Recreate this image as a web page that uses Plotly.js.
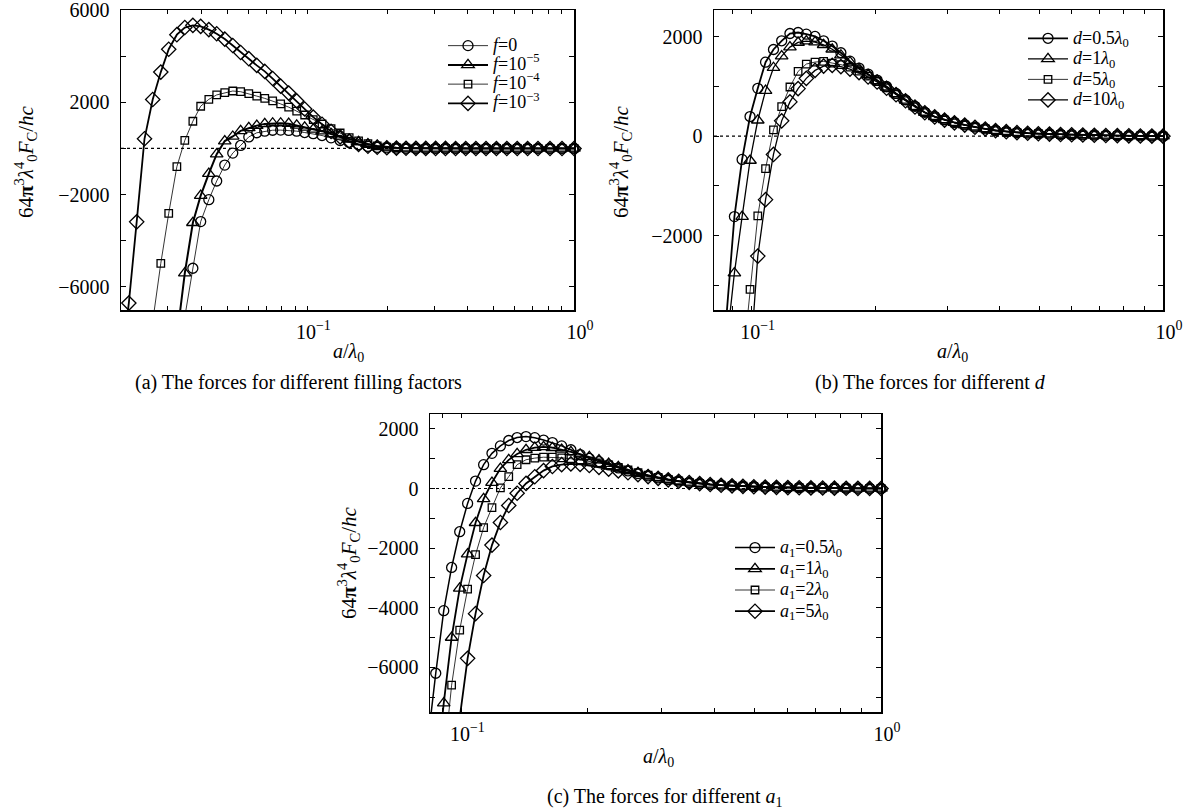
<!DOCTYPE html>
<html>
<head>
<meta charset="utf-8">
<script src="https://cdn.plot.ly/plotly-3.0.1.min.js"></script>
<style>html,body{margin:0;padding:0;background:#fff;}#chart{width:1190px;height:812px;}</style>
</head>
<body>
<div id="chart"></div>
<script>
// ---------- Panel (a): different filling factors ----------
const xA = [0.02, 0.0214, 0.0229, 0.0245, 0.0263, 0.0282, 0.0302, 0.0324, 0.0347, 0.0372, 0.0398, 0.0427, 0.0457, 0.049, 0.0525, 0.0562, 0.0603, 0.0646, 0.0692, 0.0741, 0.0794, 0.0851, 0.0912, 0.0977, 0.1052, 0.1135, 0.1227, 0.1327, 0.1435, 0.1556, 0.1687, 0.1828, 0.1986, 0.2158, 0.2344, 0.2553, 0.278, 0.3027, 0.3296, 0.3597, 0.3926, 0.4285, 0.4677, 0.5117, 0.5598, 0.6124, 0.6699, 0.7328, 0.8128, 0.9016, 1.0];
const fZero = [null, null, null, null, null, null, null, null, -7300, -5190, -3170, -2220, -1410, -720, -200, 130, 500, 680, 750, 790, 795, 780, 750, 690, 640, 560, 460, 345, 260, 160, 90, 45, 25, 12, 6, 3, 2, 1, 1, 0, 0, 0, 0, 0, 0, 0, 0, 0, 0, 0, 0];
const fE5 = [null, null, null, null, null, null, null, -8200, -5400, -3220, -2040, -1090, -245, 320, 520, 760, 890, 990, 1065, 1094, 1094, 1075, 1000, 915, 830, 750, 630, 520, 390, 290, 185, 110, 58, 30, 15, 8, 4, 2, 1, 1, 0, 0, 0, 0, 0, 0, 0, 0, 0, 0, 0];
const fE4 = [null, null, null, null, -7500, -4980, -2810, -790, 350, 1180, 1830, 2130, 2320, 2420, 2490, 2460, 2380, 2270, 2170, 2060, 1930, 1790, 1620, 1450, 1250, 1060, 860, 670, 470, 330, 210, 110, 58, 30, 15, 8, 4, 2, 1, 1, 0, 0, 0, 0, 0, 0, 0, 0, 0, 0, 0];
const fE3 = [-9500, -6700, -3180, 420, 2120, 3310, 4300, 4930, 5240, 5335, 5290, 5150, 4970, 4740, 4460, 4160, 3890, 3600, 3340, 3030, 2700, 2400, 2060, 1710, 1360, 1050, 740, 500, 320, 180, 95, 55, 30, 15, 8, 4, 2, 1, 1, 0, 0, 0, 0, 0, 0, 0, 0, 0, 0, 0, 0];
const namesA = ['<i>f</i>=0', '<i>f</i>=10<sup>−5</sup>', '<i>f</i>=10<sup>−4</sup>', '<i>f</i>=10<sup>−3</sup>'];

// ---------- Panels (b) and (c): shared sampling of a/λ0 ----------
const xB = [0.0794, 0.0832, 0.0869, 0.0908, 0.0948, 0.0991, 0.1035, 0.1081, 0.113, 0.1183, 0.1239, 0.1297, 0.1358, 0.1426, 0.1496, 0.157, 0.1648, 0.1734, 0.1824, 0.1919, 0.2018, 0.2128, 0.2244, 0.2366, 0.2495, 0.2636, 0.2786, 0.2944, 0.3112, 0.3296, 0.3491, 0.3698, 0.3917, 0.4159, 0.4416, 0.4688, 0.4977, 0.5297, 0.5636, 0.5998, 0.6383, 0.6808, 0.7261, 0.7745, 0.826, 0.881, 0.9397, 1.0];

// Panel (b): different d
const d05 = [null, null, -3600, -1620, -468, 395, 963, 1490, 1745, 1920, 2067, 2087, 2053, 2007, 1920, 1813, 1679, 1510, 1370, 1250, 1130, 1000, 860, 730, 600, 480, 395, 330, 275, 228, 182, 148, 114, 92, 72, 60, 50, 42, 35, 29, 24, 19, 15, 11, 8, 5, 3, 1];
const d1 = [null, null, -4200, -2756, -1620, -490, 320, 916, 1378, 1612, 1793, 1886, 1913, 1895, 1840, 1750, 1630, 1490, 1355, 1235, 1115, 985, 850, 722, 592, 476, 391, 326, 271, 225, 180, 146, 112, 90, 71, 59, 49, 41, 34, 28, 23, 18, 14, 10, 7, 4, 2, 0];
const d5 = [null, null, null, null, -4700, -3084, -1605, -655, 127, 595, 990, 1304, 1452, 1492, 1505, 1472, 1440, 1390, 1310, 1210, 1100, 975, 840, 715, 588, 473, 388, 323, 268, 224, 179, 145, 111, 89, 70, 58, 48, 40, 33, 27, 22, 18, 14, 10, 7, 4, 2, 0];
const d10 = [null, null, null, null, null, -4600, -2415, -1278, -368, 308, 690, 957, 1164, 1324, 1411, 1425, 1400, 1350, 1280, 1190, 1090, 965, 835, 712, 587, 472, 387, 322, 267, 223, 179, 145, 112, 90, 71, 59, 49, 41, 34, 28, 23, 18, 14, 10, 7, 4, 2, 0];
const namesB = ['<i>d</i>=0.5<i>λ</i><sub>0</sub>', '<i>d</i>=1<i>λ</i><sub>0</sub>', '<i>d</i>=5<i>λ</i><sub>0</sub>', '<i>d</i>=10<i>λ</i><sub>0</sub>'];

// Panel (c): different a1
const a05 = [null, -8500, -6200, -4100, -2650, -1450, -500, 250, 800, 1180, 1430, 1610, 1710, 1742, 1705, 1625, 1540, 1430, 1300, 1140, 1010, 900, 790, 690, 590, 500, 425, 355, 295, 245, 200, 165, 135, 110, 90, 73, 60, 48, 39, 31, 25, 19, 15, 11, 8, 5, 3, 1];
const a1 = [null, null, -9800, -7200, -5000, -3350, -2200, -1150, -350, 200, 670, 960, 1160, 1300, 1372, 1400, 1368, 1310, 1230, 1150, 1060, 950, 835, 725, 620, 525, 440, 365, 302, 250, 204, 168, 137, 112, 91, 74, 61, 49, 40, 32, 25, 20, 15, 11, 8, 5, 3, 1];
const a2 = [null, null, null, -9200, -6600, -4750, -3380, -2220, -1310, -640, 20, 400, 800, 965, 1020, 1050, 1050, 1030, 1000, 960, 915, 860, 790, 710, 620, 528, 445, 370, 305, 252, 206, 170, 138, 113, 92, 75, 61, 49, 40, 32, 25, 20, 15, 11, 8, 5, 3, 1];
const a5 = [null, null, null, null, null, -7700, -5700, -4200, -2920, -1900, -1140, -570, -160, 170, 395, 600, 740, 800, 825, 810, 770, 710, 650, 590, 530, 465, 400, 340, 290, 242, 200, 165, 135, 110, 90, 73, 60, 48, 39, 31, 25, 19, 15, 11, 8, 5, 3, 1];
const namesC = ['<i>a</i><sub>1</sub>=0.5<i>λ</i><sub>0</sub>', '<i>a</i><sub>1</sub>=1<i>λ</i><sub>0</sub>', '<i>a</i><sub>1</sub>=2<i>λ</i><sub>0</sub>', '<i>a</i><sub>1</sub>=5<i>λ</i><sub>0</sub>'];

// ---------- ticks ----------
const xTickVals = [0.02, 0.03, 0.04, 0.05, 0.06, 0.07, 0.08, 0.09, 0.1, 0.2, 0.3, 0.4, 0.5, 0.6, 0.7, 0.8, 0.9, 1];
const xTickText = ['', '', '', '', '', '', '', '', '10<sup>−1</sup>', '', '', '', '', '', '', '', '', '10<sup>0</sup>'];
const yTickValsA = [-6000, -4000, -2000, 0, 2000, 4000, 6000];
const yTickTextA = ['−6000', '', '−2000', '', '2000', '', '6000'];
const yTickValsB = [-3000, -2000, -1000, 0, 1000, 2000];
const yTickTextB = ['', '−2000', '', '0', '', '2000'];
const yTickValsC = [-7000, -6000, -5000, -4000, -3000, -2000, -1000, 0, 1000, 2000];
const yTickTextC = ['', '−6000', '', '−4000', '', '−2000', '', '0', '', '2000'];

const yTitle = '64<b>π</b><sup>3</sup><i>λ</i><sup>4</sup><sub>0</sub><i>F</i><sub>C</sub>/<i>hc</i>';
const xTitle = '<i>a</i>/<i>λ</i><sub>0</sub>';
const captions = ['(a) The forces for different filling factors', '(b) The forces for different <i>d</i>', '(c) The forces for different <i>a</i><sub>1</sub>'];

const FONT = 'Liberation Serif, Times New Roman, serif';
const W = 1190, H = 812;
const symbols = ['circle-open', 'triangle-up-open', 'square-open', 'diamond-open'];
const sizes = [10, 11, 7.5, 11];

function big(t, px) { return '<span style="font-size:' + px + 'px">' + t + '</span>'; }

function mk(x, y, name, i, width, xa, ya, leg, tpx) {
  return {
    type: 'scatter', mode: 'lines+markers', x: x, y: y, name: big(name, tpx),
    xaxis: xa, yaxis: ya, legend: leg, cliponaxis: false,
    line: {color: 'black', width: width},
    marker: {symbol: symbols[i], size: sizes[i], color: 'black', line: {width: 1.3, color: 'black'}}
  };
}

const traces = [
  mk(xA, fZero, namesA[0], 0, 0.8, 'x', 'y', 'legend', 18),
  mk(xA, fE5, namesA[1], 1, 2, 'x', 'y', 'legend', 18),
  mk(xA, fE4, namesA[2], 2, 0.8, 'x', 'y', 'legend', 18),
  mk(xA, fE3, namesA[3], 3, 1.8, 'x', 'y', 'legend', 18),
  mk(xB, d05, namesB[0], 0, 1.8, 'x2', 'y2', 'legend2', 18),
  mk(xB, d1, namesB[1], 1, 1.3, 'x2', 'y2', 'legend2', 18),
  mk(xB, d5, namesB[2], 2, 0.8, 'x2', 'y2', 'legend2', 18),
  mk(xB, d10, namesB[3], 3, 1.3, 'x2', 'y2', 'legend2', 18),
  mk(xB, a05, namesC[0], 0, 1.5, 'x3', 'y3', 'legend3', 18),
  mk(xB, a1, namesC[1], 1, 1.8, 'x3', 'y3', 'legend3', 18),
  mk(xB, a2, namesC[2], 2, 0.8, 'x3', 'y3', 'legend3', 18),
  mk(xB, a5, namesC[3], 3, 1.8, 'x3', 'y3', 'legend3', 18)
];

// plot boxes in pixels: [left, right, top, bottom]
const boxA = [121, 574, 10, 310];
const boxB = [714, 1163, 10, 310];
const boxC = [430, 881, 414, 712];
function xdom(b) { return [b[0] / W, b[1] / W]; }
function ydom(b) { return [1 - b[3] / H, 1 - b[2] / H]; }

function xax(b, range, anchor) {
  return {
    type: 'log', range: range, domain: xdom(b), anchor: anchor,
    tickmode: 'array', tickvals: xTickVals, ticktext: xTickText,
    ticks: 'inside', ticklen: 4, tickwidth: 1, tickcolor: 'black',
    showline: true, linecolor: 'black', linewidth: 1.5, mirror: 'ticks',
    showgrid: false, zeroline: false, ticklabelstandoff: 3, ticklabelshift: 6,
    ticklabeloverflow: 'allow',
    tickfont: {family: FONT, size: 20, color: 'black'}
  };
}
function yax(b, range, vals, text, anchor) {
  return {
    range: range, domain: ydom(b), anchor: anchor,
    tickmode: 'array', tickvals: vals, ticktext: text,
    ticks: 'inside', ticklen: 5, tickwidth: 1, tickcolor: 'black',
    showline: true, linecolor: 'black', linewidth: 1.5, mirror: 'ticks',
    showgrid: false, zeroline: false, ticklabelstandoff: 6,
    ticklabeloverflow: 'allow',
    tickfont: {family: FONT, size: 20, color: 'black'}
  };
}
function legendAt(px, py, size) {
  return {
    x: px / W, y: 1 - py / H, xref: 'paper', yref: 'paper', xanchor: 'left', yanchor: 'top',
    bgcolor: 'rgba(0,0,0,0)', borderwidth: 0, itemwidth: 40, tracegroupgap: 0,
    font: {family: FONT, size: size, color: 'black'}
  };
}
function ann(text, px, py, size, angle) {
  return {
    text: text, x: px / W, y: 1 - py / H, xref: 'paper', yref: 'paper',
    xanchor: 'center', yanchor: 'middle', showarrow: false, textangle: angle || 0,
    font: {family: FONT, size: size, color: 'black'}
  };
}
function zeroLine(xr, yr) {
  return {type: 'line', xref: xr + ' domain', x0: 0, x1: 1, yref: yr, y0: 0, y1: 0,
          line: {color: 'black', width: 1.2, dash: 'dot'}, layer: 'below'};
}

const layout = {
  width: W, height: H, margin: {l: 0, r: 0, t: 0, b: 0},
  paper_bgcolor: 'white', plot_bgcolor: 'white', showlegend: true,
  font: {family: FONT, color: 'black'},
  xaxis: xax(boxA, [Math.log10(0.02), 0], 'y'),
  yaxis: yax(boxA, [-7000, 6000], yTickValsA, yTickTextA, 'x'),
  xaxis2: xax(boxB, [Math.log10(0.081), 0], 'y2'),
  yaxis2: yax(boxB, [-3500, 2540], yTickValsB, yTickTextB, 'x2'),
  xaxis3: xax(boxC, [Math.log10(0.0842), 0], 'y3'),
  yaxis3: yax(boxC, [-7500, 2500], yTickValsC, yTickTextC, 'x3'),
  legend: legendAt(443, 31, 12.5),
  legend2: legendAt(1023, 23, 13.5),
  legend3: legendAt(730, 532, 14),
  shapes: [zeroLine('x', 'y'), zeroLine('x2', 'y2'), zeroLine('x3', 'y3')],
  annotations: [
    ann(yTitle, 25, 162, 21, -90),
    ann(yTitle, 620, 162, 21, -90),
    ann(yTitle, 348, 563, 21, -90),
    ann(xTitle, 348, 353, 20),
    ann(xTitle, 952, 353, 20),
    ann(xTitle, 658, 757, 20),
    ann(captions[0], 298, 382, 20),
    ann(captions[1], 930, 382, 20),
    ann(captions[2], 665, 797, 20)
  ]
};

Plotly.newPlot('chart', traces, layout, {displayModeBar: false, staticPlot: true});
</script>
</body>
</html>
